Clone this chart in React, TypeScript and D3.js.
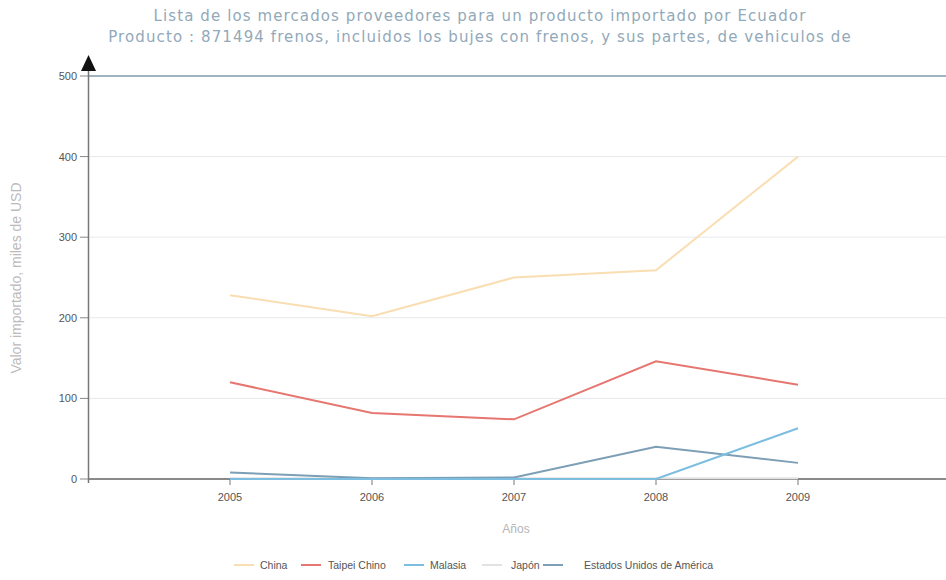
import React from "react";
import * as d3 from "d3";

const years = [2005, 2006, 2007, 2008, 2009];
const yTicks = [0, 100, 200, 300, 400, 500];
const titleLines = [
  "Lista de los mercados proveedores para un producto importado por Ecuador",
  "Producto : 871494 frenos, incluidos los bujes con frenos, y sus partes, de vehiculos de",
];
const seriesNames = ["China", "Taipei Chino", "Malasia", "Japón", "Estados Unidos de América"];
const seriesColors = ["#f9deb2", "#e6766f", "#7dbde0", "#e2e2e2", "#7d9fb6"];
const china = [228, 202, 250, 259, 400];
const taipei = [120, 82, 74, 146, 117];
const malasia = [0, 0, 0, 0, 63];
const japon = [1, 1, 1, 1, 1];
const eeuu = [8, 1, 2, 40, 20];
const seriesValues = [china, taipei, malasia, japon, eeuu];

const W = 946;
const H = 580;
const x = d3.scaleLinear().domain([2004, 2010]).range([88, 940]);
const y = d3.scaleLinear().domain([0, 500]).range([479, 76]);

export default function App() {
  const line = d3
    .line<number>()
    .x((_, i) => x(years[i]))
    .y((d) => y(d));
  const legendLineX = [234, 301, 404, 482, 543];
  const legendTextX = [260, 328, 430, 511, 584];
  const drawOrder = [3, 0, 1, 4, 2];
  return (
    <svg
      width={W}
      height={H}
      style={{ position: "absolute", left: 0, top: 0, background: "#fff" }}
      fontFamily="Arial, 'Liberation Sans', sans-serif"
    >
      <rect x={0} y={0} width={W} height={H} fill="#fff" />
      {titleLines.map((t, i) => (
        <text
          key={i}
          x={480}
          y={21 + i * 21}
          textAnchor="middle"
          fontSize={15}
          letterSpacing={1.1}
          fontFamily="'DejaVu Sans', Verdana, sans-serif"
          fill="#92a9b9"
        >
          {t}
        </text>
      ))}
      {/* gridlines */}
      {yTicks.map((t) => (
        <line
          key={t}
          x1={x(2004)}
          x2={W}
          y1={y(t)}
          y2={y(t)}
          stroke={t === 500 ? "#7f9aab" : "#e6e9ec"}
          strokeWidth={t === 500 ? 1.5 : 1}
        />
      ))}
      {/* y ticks */}
      {yTicks.map((t) => (
        <g key={"yt" + t}>
          <line x1={80} x2={88} y1={y(t)} y2={y(t)} stroke="#888" />
          <text x={77} y={y(t) + 4} textAnchor="end" fontSize={11} fill="#555">
            {t}
          </text>
        </g>
      ))}
      {/* x axis */}
      <line x1={88} x2={W} y1={y(0)} y2={y(0)} stroke="#8a8a8a" strokeWidth={2} />
      {years.map((yr) => (
        <g key={yr}>
          <line x1={x(yr)} x2={x(yr)} y1={y(0)} y2={y(0) + 6} stroke="#777" />
          <text x={x(yr)} y={501} textAnchor="middle" fontSize={11} fill="#555">
            {yr}
          </text>
        </g>
      ))}
      {/* series */}
      {drawOrder.map((si) => (
        <path
          key={seriesNames[si]}
          d={line(seriesValues[si]) || ""}
          fill="none"
          stroke={seriesColors[si]}
          strokeWidth={2}
        />
      ))}
      {/* y axis */}
      <line x1={88.5} x2={88.5} y1={66} y2={y(0) + 4} stroke="#777" strokeWidth={1.5} />
      <path d="M88.5,55 L81,71 L96,71 Z" fill="#111" />
      <text
        transform={`translate(21,278) rotate(-90)`}
        textAnchor="middle"
        fontSize={14}
        fill="#bbbbbb"
      >
        Valor importado, miles de USD
      </text>
      <text x={516} y={533} textAnchor="middle" fontSize={12} fill="#b5b5b5">
        Años
      </text>
      {/* legend */}
      {seriesNames.map((n, i) => (
        <g key={"lg" + n}>
          <line
            x1={legendLineX[i]}
            x2={legendLineX[i] + 20}
            y1={565}
            y2={565}
            stroke={seriesColors[i]}
            strokeWidth={2}
          />
          <text x={legendTextX[i]} y={569} fontSize={10.5} fill="#555">
            {n}
          </text>
        </g>
      ))}
    </svg>
  );
}
